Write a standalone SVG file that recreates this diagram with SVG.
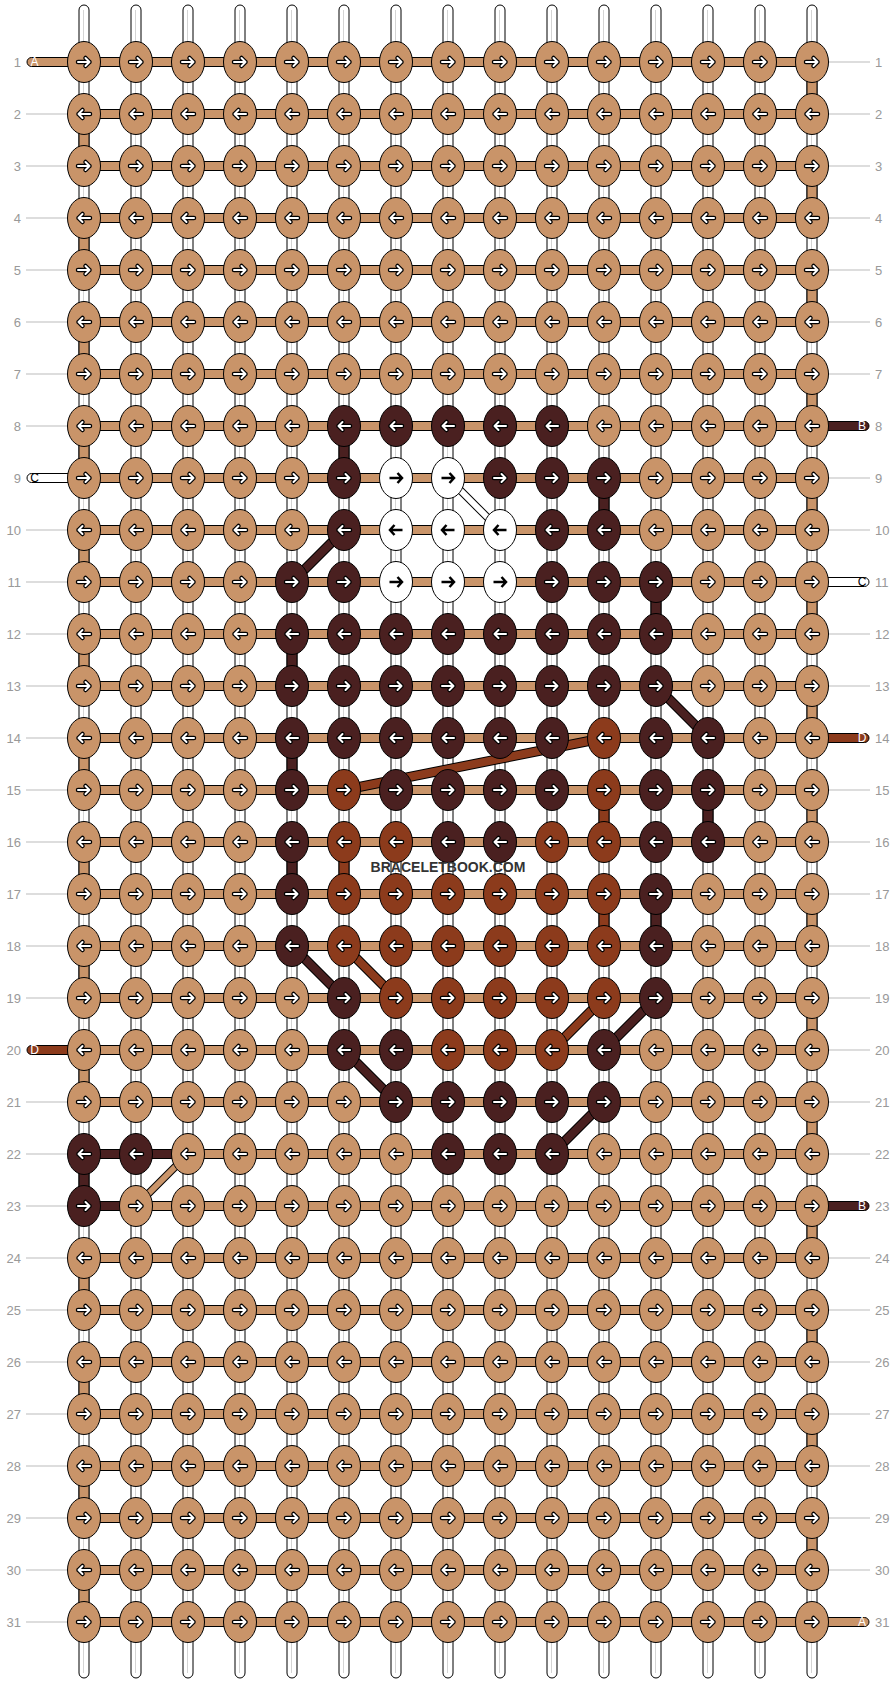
<svg xmlns="http://www.w3.org/2000/svg" xmlns:xlink="http://www.w3.org/1999/xlink" width="896" height="1684" viewBox="0 0 896 1684">
<style>
.s{fill:#fff;stroke:#000;stroke-width:1}
.g{stroke:#d4d4d4;stroke-width:1}
.b{stroke:#000;stroke-width:1}
.t{fill:#C99469}.d{fill:#4A2020}.r{fill:#8C3B1C}.w{fill:#fff}
.lbl{font-family:"Liberation Sans",Arial,sans-serif;font-size:13px;fill:#999}
.sl{font-family:"Liberation Sans",Arial,sans-serif;font-size:12px;text-anchor:middle}
.gl{stroke:#bbb;stroke-width:1}
.kb{stroke:#000;stroke-width:10;fill:none}
.kbw{stroke:#000;stroke-width:8;fill:none}
</style>
<defs>
<path id="ar" d="M-6,0H5.5M1.5,-4L5.5,0L1.5,4" fill="none" stroke-linecap="round" stroke-linejoin="round"/>
<g id="aR"><use href="#ar" stroke="#000" stroke-width="4.5"/><use href="#ar" stroke="#fff" stroke-width="2"/></g>
<g id="aL"><use href="#aR" transform="scale(-1,1)"/></g>
<g id="bR"><path d="M-6.5,0H6M1.5,-5L6,0L1.5,5" fill="none" stroke="#000" stroke-width="2.5"/></g>
<g id="bL"><use href="#bR" transform="scale(-1,1)"/></g>
<g id="tR"><ellipse rx="16.5" ry="20.5" class="t b"/><use href="#aR"/></g>
<g id="tL"><ellipse rx="16.5" ry="20.5" class="t b"/><use href="#aL"/></g>
<g id="dR"><ellipse rx="16.5" ry="20.5" class="d b"/><use href="#aR"/></g>
<g id="dL"><ellipse rx="16.5" ry="20.5" class="d b"/><use href="#aL"/></g>
<g id="rR"><ellipse rx="16.5" ry="20.5" class="r b"/><use href="#aR"/></g>
<g id="rL"><ellipse rx="16.5" ry="20.5" class="r b"/><use href="#aL"/></g>
<g id="wR"><ellipse rx="16.5" ry="20.5" class="w b"/><use href="#bR"/></g>
<g id="wL"><ellipse rx="16.5" ry="20.5" class="w b"/><use href="#bL"/></g>
</defs>
<rect width="896" height="1684" fill="#fff"/>
<g id="labels">
<g class="lbl" text-anchor="end">
<text x="21" y="66.5">1</text><text x="21" y="118.5">2</text><text x="21" y="170.5">3</text><text x="21" y="222.5">4</text><text x="21" y="274.5">5</text><text x="21" y="326.5">6</text><text x="21" y="378.5">7</text><text x="21" y="430.5">8</text><text x="21" y="482.5">9</text><text x="21" y="534.5">10</text><text x="21" y="586.5">11</text><text x="21" y="638.5">12</text><text x="21" y="690.5">13</text><text x="21" y="742.5">14</text><text x="21" y="794.5">15</text><text x="21" y="846.5">16</text><text x="21" y="898.5">17</text><text x="21" y="950.5">18</text><text x="21" y="1002.5">19</text><text x="21" y="1054.5">20</text><text x="21" y="1106.5">21</text><text x="21" y="1158.5">22</text><text x="21" y="1210.5">23</text><text x="21" y="1262.5">24</text><text x="21" y="1314.5">25</text><text x="21" y="1366.5">26</text><text x="21" y="1418.5">27</text><text x="21" y="1470.5">28</text><text x="21" y="1522.5">29</text><text x="21" y="1574.5">30</text><text x="21" y="1626.5">31</text>
</g>
<g class="lbl">
<text x="875" y="66.5">1</text><text x="875" y="118.5">2</text><text x="875" y="170.5">3</text><text x="875" y="222.5">4</text><text x="875" y="274.5">5</text><text x="875" y="326.5">6</text><text x="875" y="378.5">7</text><text x="875" y="430.5">8</text><text x="875" y="482.5">9</text><text x="875" y="534.5">10</text><text x="875" y="586.5">11</text><text x="875" y="638.5">12</text><text x="875" y="690.5">13</text><text x="875" y="742.5">14</text><text x="875" y="794.5">15</text><text x="875" y="846.5">16</text><text x="875" y="898.5">17</text><text x="875" y="950.5">18</text><text x="875" y="1002.5">19</text><text x="875" y="1054.5">20</text><text x="875" y="1106.5">21</text><text x="875" y="1158.5">22</text><text x="875" y="1210.5">23</text><text x="875" y="1262.5">24</text><text x="875" y="1314.5">25</text><text x="875" y="1366.5">26</text><text x="875" y="1418.5">27</text><text x="875" y="1470.5">28</text><text x="875" y="1522.5">29</text><text x="875" y="1574.5">30</text><text x="875" y="1626.5">31</text>
</g>
</g>
<g id="connectors">
<g id="guides" class="gl">
<path d="M26,114H67M26,166H67M26,218H67M26,270H67M26,322H67M26,374H67M26,426H67M26,530H67M26,582H67M26,634H67M26,686H67M26,738H67M26,790H67M26,842H67M26,894H67M26,946H67M26,998H67M26,1102H67M26,1154H67M26,1206H67M26,1258H67M26,1310H67M26,1362H67M26,1414H67M26,1466H67M26,1518H67M26,1570H67M26,1622H67"/>
<path d="M829,62H870M829,114H870M829,166H870M829,218H870M829,270H870M829,322H870M829,374H870M829,478H870M829,530H870M829,634H870M829,686H870M829,790H870M829,842H870M829,894H870M829,946H870M829,998H870M829,1050H870M829,1102H870M829,1154H870M829,1258H870M829,1310H870M829,1362H870M829,1414H870M829,1466H870M829,1518H870M829,1570H870"/>
</g>
<g id="strings">
<rect class="s" x="79" y="5" width="10" height="1673" rx="5"/><rect class="s" x="131" y="5" width="10" height="1673" rx="5"/><rect class="s" x="183" y="5" width="10" height="1673" rx="5"/><rect class="s" x="235" y="5" width="10" height="1673" rx="5"/><rect class="s" x="287" y="5" width="10" height="1673" rx="5"/><rect class="s" x="339" y="5" width="10" height="1673" rx="5"/><rect class="s" x="391" y="5" width="10" height="1673" rx="5"/><rect class="s" x="443" y="5" width="10" height="1673" rx="5"/><rect class="s" x="495" y="5" width="10" height="1673" rx="5"/><rect class="s" x="547" y="5" width="10" height="1673" rx="5"/><rect class="s" x="599" y="5" width="10" height="1673" rx="5"/><rect class="s" x="651" y="5" width="10" height="1673" rx="5"/><rect class="s" x="703" y="5" width="10" height="1673" rx="5"/><rect class="s" x="755" y="5" width="10" height="1673" rx="5"/><rect class="s" x="807" y="5" width="10" height="1673" rx="5"/>
<path class="g" d="M83.5,10V1673M135.5,10V1673M187.5,10V1673M239.5,10V1673M291.5,10V1673M343.5,10V1673M395.5,10V1673M447.5,10V1673M499.5,10V1673M551.5,10V1673M603.5,10V1673M655.5,10V1673M707.5,10V1673M759.5,10V1673M811.5,10V1673"/>
</g>
<g id="rows" class="b">
<rect class="t" x="84" y="57.5" width="728" height="9"/><rect class="t" x="84" y="109.5" width="728" height="9"/><rect class="t" x="84" y="161.5" width="728" height="9"/><rect class="t" x="84" y="213.5" width="728" height="9"/><rect class="t" x="84" y="265.5" width="728" height="9"/><rect class="t" x="84" y="317.5" width="728" height="9"/><rect class="t" x="84" y="369.5" width="728" height="9"/><rect class="t" x="84" y="421.5" width="728" height="9"/><rect class="t" x="84" y="473.5" width="728" height="9"/><rect class="t" x="84" y="525.5" width="728" height="9"/><rect class="t" x="84" y="577.5" width="728" height="9"/><rect class="t" x="84" y="629.5" width="728" height="9"/><rect class="t" x="84" y="681.5" width="728" height="9"/><rect class="t" x="84" y="733.5" width="728" height="9"/><rect class="t" x="84" y="785.5" width="728" height="9"/><rect class="t" x="84" y="837.5" width="728" height="9"/><rect class="t" x="84" y="889.5" width="728" height="9"/><rect class="t" x="84" y="941.5" width="728" height="9"/><rect class="t" x="84" y="993.5" width="728" height="9"/><rect class="t" x="84" y="1045.5" width="728" height="9"/><rect class="t" x="84" y="1097.5" width="728" height="9"/>
<rect class="t" x="188" y="1149.5" width="624" height="9"/><rect class="d" x="84" y="1149.5" width="104" height="9"/>
<rect class="t" x="136" y="1201.5" width="676" height="9"/><rect class="d" x="84" y="1201.5" width="52" height="9"/>
<rect class="t" x="84" y="1253.5" width="728" height="9"/><rect class="t" x="84" y="1305.5" width="728" height="9"/><rect class="t" x="84" y="1357.5" width="728" height="9"/><rect class="t" x="84" y="1409.5" width="728" height="9"/><rect class="t" x="84" y="1461.5" width="728" height="9"/><rect class="t" x="84" y="1513.5" width="728" height="9"/><rect class="t" x="84" y="1565.5" width="728" height="9"/><rect class="t" x="84" y="1617.5" width="728" height="9"/>
</g>
<g id="stubs" class="b">
<rect class="t" x="27" y="57.5" width="62" height="9" rx="4.5"/>
<rect class="w" x="27" y="473.5" width="62" height="9" rx="4.5"/>
<rect class="r" x="27" y="1045.5" width="62" height="9" rx="4.5"/>
<rect class="d" x="807" y="421.5" width="62" height="9" rx="4.5"/>
<rect class="w" x="807" y="577.5" width="62" height="9" rx="4.5"/>
<rect class="r" x="807" y="733.5" width="62" height="9" rx="4.5"/>
<rect class="d" x="807" y="1201.5" width="62" height="9" rx="4.5"/>
<rect class="t" x="807" y="1617.5" width="62" height="9" rx="4.5"/>
</g>
<g id="stub-letters" class="sl">
<text x="34.5" y="66.3" fill="#fff">A</text>
<text x="34.5" y="482.3" fill="#000">C</text>
<text x="34.5" y="1054.3" fill="#fff">D</text>
<text x="862" y="430.3" fill="#fff">B</text>
<text x="862" y="586.3" fill="#000">C</text>
<text x="862" y="742.3" fill="#fff">D</text>
<text x="862" y="1210.3" fill="#fff">B</text>
<text x="862" y="1626.3" fill="#fff">A</text>
</g>
<g id="turns" class="b">
<rect class="t" x="79" y="114" width="10" height="52"/><rect class="t" x="79" y="218" width="10" height="52"/><rect class="t" x="79" y="322" width="10" height="52"/><rect class="t" x="79" y="426" width="10" height="52"/><rect class="t" x="79" y="530" width="10" height="52"/><rect class="t" x="79" y="634" width="10" height="52"/><rect class="t" x="79" y="738" width="10" height="52"/><rect class="t" x="79" y="842" width="10" height="52"/><rect class="t" x="79" y="946" width="10" height="52"/><rect class="t" x="79" y="1050" width="10" height="52"/><rect class="d" x="79" y="1154" width="10" height="52"/><rect class="t" x="79" y="1258" width="10" height="52"/><rect class="t" x="79" y="1362" width="10" height="52"/><rect class="t" x="79" y="1466" width="10" height="52"/><rect class="t" x="79" y="1570" width="10" height="52"/>
<rect class="t" x="807" y="62" width="10" height="52"/><rect class="t" x="807" y="166" width="10" height="52"/><rect class="t" x="807" y="270" width="10" height="52"/><rect class="t" x="807" y="374" width="10" height="52"/><rect class="t" x="807" y="478" width="10" height="52"/><rect class="t" x="807" y="582" width="10" height="52"/><rect class="t" x="807" y="686" width="10" height="52"/><rect class="t" x="807" y="790" width="10" height="52"/><rect class="t" x="807" y="894" width="10" height="52"/><rect class="t" x="807" y="998" width="10" height="52"/><rect class="t" x="807" y="1102" width="10" height="52"/><rect class="t" x="807" y="1206" width="10" height="52"/><rect class="t" x="807" y="1310" width="10" height="52"/><rect class="t" x="807" y="1414" width="10" height="52"/><rect class="t" x="807" y="1518" width="10" height="52"/>
</g>
<g id="color-verticals" class="b">
<rect class="d" x="339" y="426" width="10" height="52"/>
<rect class="d" x="599" y="478" width="10" height="52"/>
<rect class="d" x="651" y="582" width="10" height="52"/>
<rect class="d" x="287" y="634" width="10" height="52"/>
<rect class="d" x="287" y="738" width="10" height="52"/>
<rect class="d" x="703" y="790" width="10" height="52"/>
<rect class="r" x="599" y="790" width="10" height="52"/>
<rect class="d" x="287" y="842" width="10" height="52"/>
<rect class="r" x="339" y="842" width="10" height="52"/>
<rect class="r" x="599" y="894" width="10" height="52"/>
<rect class="d" x="651" y="894" width="10" height="52"/>
</g>
<g id="diagonals">
<path class="kbw" d="M448,478L500,530"/><path d="M448,478L500,530" stroke="#fff" stroke-width="6" fill="none"/>
<path class="kb" d="M344,530L292,582M656,686L708,738M292,946L344,998M656,998L604,1050M344,1050L396,1102M604,1102L552,1154"/>
<path d="M344,530L292,582M656,686L708,738M292,946L344,998M656,998L604,1050M344,1050L396,1102M604,1102L552,1154" stroke="#4A2020" stroke-width="8" fill="none"/>
<path class="kb" d="M604,738L344,790M344,946L396,998M604,998L552,1050"/>
<path d="M604,738L344,790M344,946L396,998M604,998L552,1050" stroke="#8C3B1C" stroke-width="8" fill="none"/>
<path class="kbw" d="M188,1154L136,1206"/><path d="M188,1154L136,1206" stroke="#C99469" stroke-width="6" fill="none"/>
</g>
</g>
<g id="knots">
<g id="k1_0"><use href="#tR" x="84" y="62"/></g><g id="k1_1"><use href="#tR" x="136" y="62"/></g><g id="k1_2"><use href="#tR" x="188" y="62"/></g><g id="k1_3"><use href="#tR" x="240" y="62"/></g><g id="k1_4"><use href="#tR" x="292" y="62"/></g><g id="k1_5"><use href="#tR" x="344" y="62"/></g><g id="k1_6"><use href="#tR" x="396" y="62"/></g><g id="k1_7"><use href="#tR" x="448" y="62"/></g><g id="k1_8"><use href="#tR" x="500" y="62"/></g><g id="k1_9"><use href="#tR" x="552" y="62"/></g><g id="k1_10"><use href="#tR" x="604" y="62"/></g><g id="k1_11"><use href="#tR" x="656" y="62"/></g><g id="k1_12"><use href="#tR" x="708" y="62"/></g><g id="k1_13"><use href="#tR" x="760" y="62"/></g><g id="k1_14"><use href="#tR" x="812" y="62"/></g>
<g id="k2_0"><use href="#tL" x="84" y="114"/></g><g id="k2_1"><use href="#tL" x="136" y="114"/></g><g id="k2_2"><use href="#tL" x="188" y="114"/></g><g id="k2_3"><use href="#tL" x="240" y="114"/></g><g id="k2_4"><use href="#tL" x="292" y="114"/></g><g id="k2_5"><use href="#tL" x="344" y="114"/></g><g id="k2_6"><use href="#tL" x="396" y="114"/></g><g id="k2_7"><use href="#tL" x="448" y="114"/></g><g id="k2_8"><use href="#tL" x="500" y="114"/></g><g id="k2_9"><use href="#tL" x="552" y="114"/></g><g id="k2_10"><use href="#tL" x="604" y="114"/></g><g id="k2_11"><use href="#tL" x="656" y="114"/></g><g id="k2_12"><use href="#tL" x="708" y="114"/></g><g id="k2_13"><use href="#tL" x="760" y="114"/></g><g id="k2_14"><use href="#tL" x="812" y="114"/></g>
<g id="k3_0"><use href="#tR" x="84" y="166"/></g><g id="k3_1"><use href="#tR" x="136" y="166"/></g><g id="k3_2"><use href="#tR" x="188" y="166"/></g><g id="k3_3"><use href="#tR" x="240" y="166"/></g><g id="k3_4"><use href="#tR" x="292" y="166"/></g><g id="k3_5"><use href="#tR" x="344" y="166"/></g><g id="k3_6"><use href="#tR" x="396" y="166"/></g><g id="k3_7"><use href="#tR" x="448" y="166"/></g><g id="k3_8"><use href="#tR" x="500" y="166"/></g><g id="k3_9"><use href="#tR" x="552" y="166"/></g><g id="k3_10"><use href="#tR" x="604" y="166"/></g><g id="k3_11"><use href="#tR" x="656" y="166"/></g><g id="k3_12"><use href="#tR" x="708" y="166"/></g><g id="k3_13"><use href="#tR" x="760" y="166"/></g><g id="k3_14"><use href="#tR" x="812" y="166"/></g>
<g id="k4_0"><use href="#tL" x="84" y="218"/></g><g id="k4_1"><use href="#tL" x="136" y="218"/></g><g id="k4_2"><use href="#tL" x="188" y="218"/></g><g id="k4_3"><use href="#tL" x="240" y="218"/></g><g id="k4_4"><use href="#tL" x="292" y="218"/></g><g id="k4_5"><use href="#tL" x="344" y="218"/></g><g id="k4_6"><use href="#tL" x="396" y="218"/></g><g id="k4_7"><use href="#tL" x="448" y="218"/></g><g id="k4_8"><use href="#tL" x="500" y="218"/></g><g id="k4_9"><use href="#tL" x="552" y="218"/></g><g id="k4_10"><use href="#tL" x="604" y="218"/></g><g id="k4_11"><use href="#tL" x="656" y="218"/></g><g id="k4_12"><use href="#tL" x="708" y="218"/></g><g id="k4_13"><use href="#tL" x="760" y="218"/></g><g id="k4_14"><use href="#tL" x="812" y="218"/></g>
<g id="k5_0"><use href="#tR" x="84" y="270"/></g><g id="k5_1"><use href="#tR" x="136" y="270"/></g><g id="k5_2"><use href="#tR" x="188" y="270"/></g><g id="k5_3"><use href="#tR" x="240" y="270"/></g><g id="k5_4"><use href="#tR" x="292" y="270"/></g><g id="k5_5"><use href="#tR" x="344" y="270"/></g><g id="k5_6"><use href="#tR" x="396" y="270"/></g><g id="k5_7"><use href="#tR" x="448" y="270"/></g><g id="k5_8"><use href="#tR" x="500" y="270"/></g><g id="k5_9"><use href="#tR" x="552" y="270"/></g><g id="k5_10"><use href="#tR" x="604" y="270"/></g><g id="k5_11"><use href="#tR" x="656" y="270"/></g><g id="k5_12"><use href="#tR" x="708" y="270"/></g><g id="k5_13"><use href="#tR" x="760" y="270"/></g><g id="k5_14"><use href="#tR" x="812" y="270"/></g>
<g id="k6_0"><use href="#tL" x="84" y="322"/></g><g id="k6_1"><use href="#tL" x="136" y="322"/></g><g id="k6_2"><use href="#tL" x="188" y="322"/></g><g id="k6_3"><use href="#tL" x="240" y="322"/></g><g id="k6_4"><use href="#tL" x="292" y="322"/></g><g id="k6_5"><use href="#tL" x="344" y="322"/></g><g id="k6_6"><use href="#tL" x="396" y="322"/></g><g id="k6_7"><use href="#tL" x="448" y="322"/></g><g id="k6_8"><use href="#tL" x="500" y="322"/></g><g id="k6_9"><use href="#tL" x="552" y="322"/></g><g id="k6_10"><use href="#tL" x="604" y="322"/></g><g id="k6_11"><use href="#tL" x="656" y="322"/></g><g id="k6_12"><use href="#tL" x="708" y="322"/></g><g id="k6_13"><use href="#tL" x="760" y="322"/></g><g id="k6_14"><use href="#tL" x="812" y="322"/></g>
<g id="k7_0"><use href="#tR" x="84" y="374"/></g><g id="k7_1"><use href="#tR" x="136" y="374"/></g><g id="k7_2"><use href="#tR" x="188" y="374"/></g><g id="k7_3"><use href="#tR" x="240" y="374"/></g><g id="k7_4"><use href="#tR" x="292" y="374"/></g><g id="k7_5"><use href="#tR" x="344" y="374"/></g><g id="k7_6"><use href="#tR" x="396" y="374"/></g><g id="k7_7"><use href="#tR" x="448" y="374"/></g><g id="k7_8"><use href="#tR" x="500" y="374"/></g><g id="k7_9"><use href="#tR" x="552" y="374"/></g><g id="k7_10"><use href="#tR" x="604" y="374"/></g><g id="k7_11"><use href="#tR" x="656" y="374"/></g><g id="k7_12"><use href="#tR" x="708" y="374"/></g><g id="k7_13"><use href="#tR" x="760" y="374"/></g><g id="k7_14"><use href="#tR" x="812" y="374"/></g>
<g id="k8_0"><use href="#tL" x="84" y="426"/></g><g id="k8_1"><use href="#tL" x="136" y="426"/></g><g id="k8_2"><use href="#tL" x="188" y="426"/></g><g id="k8_3"><use href="#tL" x="240" y="426"/></g><g id="k8_4"><use href="#tL" x="292" y="426"/></g><g id="k8_5"><use href="#dL" x="344" y="426"/></g><g id="k8_6"><use href="#dL" x="396" y="426"/></g><g id="k8_7"><use href="#dL" x="448" y="426"/></g><g id="k8_8"><use href="#dL" x="500" y="426"/></g><g id="k8_9"><use href="#dL" x="552" y="426"/></g><g id="k8_10"><use href="#tL" x="604" y="426"/></g><g id="k8_11"><use href="#tL" x="656" y="426"/></g><g id="k8_12"><use href="#tL" x="708" y="426"/></g><g id="k8_13"><use href="#tL" x="760" y="426"/></g><g id="k8_14"><use href="#tL" x="812" y="426"/></g>
<g id="k9_0"><use href="#tR" x="84" y="478"/></g><g id="k9_1"><use href="#tR" x="136" y="478"/></g><g id="k9_2"><use href="#tR" x="188" y="478"/></g><g id="k9_3"><use href="#tR" x="240" y="478"/></g><g id="k9_4"><use href="#tR" x="292" y="478"/></g><g id="k9_5"><use href="#dR" x="344" y="478"/></g><g id="k9_6"><use href="#wR" x="396" y="478"/></g><g id="k9_7"><use href="#wR" x="448" y="478"/></g><g id="k9_8"><use href="#dR" x="500" y="478"/></g><g id="k9_9"><use href="#dR" x="552" y="478"/></g><g id="k9_10"><use href="#dR" x="604" y="478"/></g><g id="k9_11"><use href="#tR" x="656" y="478"/></g><g id="k9_12"><use href="#tR" x="708" y="478"/></g><g id="k9_13"><use href="#tR" x="760" y="478"/></g><g id="k9_14"><use href="#tR" x="812" y="478"/></g>
<g id="k10_0"><use href="#tL" x="84" y="530"/></g><g id="k10_1"><use href="#tL" x="136" y="530"/></g><g id="k10_2"><use href="#tL" x="188" y="530"/></g><g id="k10_3"><use href="#tL" x="240" y="530"/></g><g id="k10_4"><use href="#tL" x="292" y="530"/></g><g id="k10_5"><use href="#dL" x="344" y="530"/></g><g id="k10_6"><use href="#wL" x="396" y="530"/></g><g id="k10_7"><use href="#wL" x="448" y="530"/></g><g id="k10_8"><use href="#wL" x="500" y="530"/></g><g id="k10_9"><use href="#dL" x="552" y="530"/></g><g id="k10_10"><use href="#dL" x="604" y="530"/></g><g id="k10_11"><use href="#tL" x="656" y="530"/></g><g id="k10_12"><use href="#tL" x="708" y="530"/></g><g id="k10_13"><use href="#tL" x="760" y="530"/></g><g id="k10_14"><use href="#tL" x="812" y="530"/></g>
<g id="k11_0"><use href="#tR" x="84" y="582"/></g><g id="k11_1"><use href="#tR" x="136" y="582"/></g><g id="k11_2"><use href="#tR" x="188" y="582"/></g><g id="k11_3"><use href="#tR" x="240" y="582"/></g><g id="k11_4"><use href="#dR" x="292" y="582"/></g><g id="k11_5"><use href="#dR" x="344" y="582"/></g><g id="k11_6"><use href="#wR" x="396" y="582"/></g><g id="k11_7"><use href="#wR" x="448" y="582"/></g><g id="k11_8"><use href="#wR" x="500" y="582"/></g><g id="k11_9"><use href="#dR" x="552" y="582"/></g><g id="k11_10"><use href="#dR" x="604" y="582"/></g><g id="k11_11"><use href="#dR" x="656" y="582"/></g><g id="k11_12"><use href="#tR" x="708" y="582"/></g><g id="k11_13"><use href="#tR" x="760" y="582"/></g><g id="k11_14"><use href="#tR" x="812" y="582"/></g>
<g id="k12_0"><use href="#tL" x="84" y="634"/></g><g id="k12_1"><use href="#tL" x="136" y="634"/></g><g id="k12_2"><use href="#tL" x="188" y="634"/></g><g id="k12_3"><use href="#tL" x="240" y="634"/></g><g id="k12_4"><use href="#dL" x="292" y="634"/></g><g id="k12_5"><use href="#dL" x="344" y="634"/></g><g id="k12_6"><use href="#dL" x="396" y="634"/></g><g id="k12_7"><use href="#dL" x="448" y="634"/></g><g id="k12_8"><use href="#dL" x="500" y="634"/></g><g id="k12_9"><use href="#dL" x="552" y="634"/></g><g id="k12_10"><use href="#dL" x="604" y="634"/></g><g id="k12_11"><use href="#dL" x="656" y="634"/></g><g id="k12_12"><use href="#tL" x="708" y="634"/></g><g id="k12_13"><use href="#tL" x="760" y="634"/></g><g id="k12_14"><use href="#tL" x="812" y="634"/></g>
<g id="k13_0"><use href="#tR" x="84" y="686"/></g><g id="k13_1"><use href="#tR" x="136" y="686"/></g><g id="k13_2"><use href="#tR" x="188" y="686"/></g><g id="k13_3"><use href="#tR" x="240" y="686"/></g><g id="k13_4"><use href="#dR" x="292" y="686"/></g><g id="k13_5"><use href="#dR" x="344" y="686"/></g><g id="k13_6"><use href="#dR" x="396" y="686"/></g><g id="k13_7"><use href="#dR" x="448" y="686"/></g><g id="k13_8"><use href="#dR" x="500" y="686"/></g><g id="k13_9"><use href="#dR" x="552" y="686"/></g><g id="k13_10"><use href="#dR" x="604" y="686"/></g><g id="k13_11"><use href="#dR" x="656" y="686"/></g><g id="k13_12"><use href="#tR" x="708" y="686"/></g><g id="k13_13"><use href="#tR" x="760" y="686"/></g><g id="k13_14"><use href="#tR" x="812" y="686"/></g>
<g id="k14_0"><use href="#tL" x="84" y="738"/></g><g id="k14_1"><use href="#tL" x="136" y="738"/></g><g id="k14_2"><use href="#tL" x="188" y="738"/></g><g id="k14_3"><use href="#tL" x="240" y="738"/></g><g id="k14_4"><use href="#dL" x="292" y="738"/></g><g id="k14_5"><use href="#dL" x="344" y="738"/></g><g id="k14_6"><use href="#dL" x="396" y="738"/></g><g id="k14_7"><use href="#dL" x="448" y="738"/></g><g id="k14_8"><use href="#dL" x="500" y="738"/></g><g id="k14_9"><use href="#dL" x="552" y="738"/></g><g id="k14_10"><use href="#rL" x="604" y="738"/></g><g id="k14_11"><use href="#dL" x="656" y="738"/></g><g id="k14_12"><use href="#dL" x="708" y="738"/></g><g id="k14_13"><use href="#tL" x="760" y="738"/></g><g id="k14_14"><use href="#tL" x="812" y="738"/></g>
<g id="k15_0"><use href="#tR" x="84" y="790"/></g><g id="k15_1"><use href="#tR" x="136" y="790"/></g><g id="k15_2"><use href="#tR" x="188" y="790"/></g><g id="k15_3"><use href="#tR" x="240" y="790"/></g><g id="k15_4"><use href="#dR" x="292" y="790"/></g><g id="k15_5"><use href="#rR" x="344" y="790"/></g><g id="k15_6"><use href="#dR" x="396" y="790"/></g><g id="k15_7"><use href="#dR" x="448" y="790"/></g><g id="k15_8"><use href="#dR" x="500" y="790"/></g><g id="k15_9"><use href="#dR" x="552" y="790"/></g><g id="k15_10"><use href="#rR" x="604" y="790"/></g><g id="k15_11"><use href="#dR" x="656" y="790"/></g><g id="k15_12"><use href="#dR" x="708" y="790"/></g><g id="k15_13"><use href="#tR" x="760" y="790"/></g><g id="k15_14"><use href="#tR" x="812" y="790"/></g>
<g id="k16_0"><use href="#tL" x="84" y="842"/></g><g id="k16_1"><use href="#tL" x="136" y="842"/></g><g id="k16_2"><use href="#tL" x="188" y="842"/></g><g id="k16_3"><use href="#tL" x="240" y="842"/></g><g id="k16_4"><use href="#dL" x="292" y="842"/></g><g id="k16_5"><use href="#rL" x="344" y="842"/></g><g id="k16_6"><use href="#rL" x="396" y="842"/></g><g id="k16_7"><use href="#dL" x="448" y="842"/></g><g id="k16_8"><use href="#dL" x="500" y="842"/></g><g id="k16_9"><use href="#rL" x="552" y="842"/></g><g id="k16_10"><use href="#rL" x="604" y="842"/></g><g id="k16_11"><use href="#dL" x="656" y="842"/></g><g id="k16_12"><use href="#dL" x="708" y="842"/></g><g id="k16_13"><use href="#tL" x="760" y="842"/></g><g id="k16_14"><use href="#tL" x="812" y="842"/></g>
<g id="k17_0"><use href="#tR" x="84" y="894"/></g><g id="k17_1"><use href="#tR" x="136" y="894"/></g><g id="k17_2"><use href="#tR" x="188" y="894"/></g><g id="k17_3"><use href="#tR" x="240" y="894"/></g><g id="k17_4"><use href="#dR" x="292" y="894"/></g><g id="k17_5"><use href="#rR" x="344" y="894"/></g><g id="k17_6"><use href="#rR" x="396" y="894"/></g><g id="k17_7"><use href="#rR" x="448" y="894"/></g><g id="k17_8"><use href="#rR" x="500" y="894"/></g><g id="k17_9"><use href="#rR" x="552" y="894"/></g><g id="k17_10"><use href="#rR" x="604" y="894"/></g><g id="k17_11"><use href="#dR" x="656" y="894"/></g><g id="k17_12"><use href="#tR" x="708" y="894"/></g><g id="k17_13"><use href="#tR" x="760" y="894"/></g><g id="k17_14"><use href="#tR" x="812" y="894"/></g>
<g id="k18_0"><use href="#tL" x="84" y="946"/></g><g id="k18_1"><use href="#tL" x="136" y="946"/></g><g id="k18_2"><use href="#tL" x="188" y="946"/></g><g id="k18_3"><use href="#tL" x="240" y="946"/></g><g id="k18_4"><use href="#dL" x="292" y="946"/></g><g id="k18_5"><use href="#rL" x="344" y="946"/></g><g id="k18_6"><use href="#rL" x="396" y="946"/></g><g id="k18_7"><use href="#rL" x="448" y="946"/></g><g id="k18_8"><use href="#rL" x="500" y="946"/></g><g id="k18_9"><use href="#rL" x="552" y="946"/></g><g id="k18_10"><use href="#rL" x="604" y="946"/></g><g id="k18_11"><use href="#dL" x="656" y="946"/></g><g id="k18_12"><use href="#tL" x="708" y="946"/></g><g id="k18_13"><use href="#tL" x="760" y="946"/></g><g id="k18_14"><use href="#tL" x="812" y="946"/></g>
<g id="k19_0"><use href="#tR" x="84" y="998"/></g><g id="k19_1"><use href="#tR" x="136" y="998"/></g><g id="k19_2"><use href="#tR" x="188" y="998"/></g><g id="k19_3"><use href="#tR" x="240" y="998"/></g><g id="k19_4"><use href="#tR" x="292" y="998"/></g><g id="k19_5"><use href="#dR" x="344" y="998"/></g><g id="k19_6"><use href="#rR" x="396" y="998"/></g><g id="k19_7"><use href="#rR" x="448" y="998"/></g><g id="k19_8"><use href="#rR" x="500" y="998"/></g><g id="k19_9"><use href="#rR" x="552" y="998"/></g><g id="k19_10"><use href="#rR" x="604" y="998"/></g><g id="k19_11"><use href="#dR" x="656" y="998"/></g><g id="k19_12"><use href="#tR" x="708" y="998"/></g><g id="k19_13"><use href="#tR" x="760" y="998"/></g><g id="k19_14"><use href="#tR" x="812" y="998"/></g>
<g id="k20_0"><use href="#tL" x="84" y="1050"/></g><g id="k20_1"><use href="#tL" x="136" y="1050"/></g><g id="k20_2"><use href="#tL" x="188" y="1050"/></g><g id="k20_3"><use href="#tL" x="240" y="1050"/></g><g id="k20_4"><use href="#tL" x="292" y="1050"/></g><g id="k20_5"><use href="#dL" x="344" y="1050"/></g><g id="k20_6"><use href="#dL" x="396" y="1050"/></g><g id="k20_7"><use href="#rL" x="448" y="1050"/></g><g id="k20_8"><use href="#rL" x="500" y="1050"/></g><g id="k20_9"><use href="#rL" x="552" y="1050"/></g><g id="k20_10"><use href="#dL" x="604" y="1050"/></g><g id="k20_11"><use href="#tL" x="656" y="1050"/></g><g id="k20_12"><use href="#tL" x="708" y="1050"/></g><g id="k20_13"><use href="#tL" x="760" y="1050"/></g><g id="k20_14"><use href="#tL" x="812" y="1050"/></g>
<g id="k21_0"><use href="#tR" x="84" y="1102"/></g><g id="k21_1"><use href="#tR" x="136" y="1102"/></g><g id="k21_2"><use href="#tR" x="188" y="1102"/></g><g id="k21_3"><use href="#tR" x="240" y="1102"/></g><g id="k21_4"><use href="#tR" x="292" y="1102"/></g><g id="k21_5"><use href="#tR" x="344" y="1102"/></g><g id="k21_6"><use href="#dR" x="396" y="1102"/></g><g id="k21_7"><use href="#dR" x="448" y="1102"/></g><g id="k21_8"><use href="#dR" x="500" y="1102"/></g><g id="k21_9"><use href="#dR" x="552" y="1102"/></g><g id="k21_10"><use href="#dR" x="604" y="1102"/></g><g id="k21_11"><use href="#tR" x="656" y="1102"/></g><g id="k21_12"><use href="#tR" x="708" y="1102"/></g><g id="k21_13"><use href="#tR" x="760" y="1102"/></g><g id="k21_14"><use href="#tR" x="812" y="1102"/></g>
<g id="k22_0"><use href="#dL" x="84" y="1154"/></g><g id="k22_1"><use href="#dL" x="136" y="1154"/></g><g id="k22_2"><use href="#tL" x="188" y="1154"/></g><g id="k22_3"><use href="#tL" x="240" y="1154"/></g><g id="k22_4"><use href="#tL" x="292" y="1154"/></g><g id="k22_5"><use href="#tL" x="344" y="1154"/></g><g id="k22_6"><use href="#tL" x="396" y="1154"/></g><g id="k22_7"><use href="#dL" x="448" y="1154"/></g><g id="k22_8"><use href="#dL" x="500" y="1154"/></g><g id="k22_9"><use href="#dL" x="552" y="1154"/></g><g id="k22_10"><use href="#tL" x="604" y="1154"/></g><g id="k22_11"><use href="#tL" x="656" y="1154"/></g><g id="k22_12"><use href="#tL" x="708" y="1154"/></g><g id="k22_13"><use href="#tL" x="760" y="1154"/></g><g id="k22_14"><use href="#tL" x="812" y="1154"/></g>
<g id="k23_0"><use href="#dR" x="84" y="1206"/></g><g id="k23_1"><use href="#tR" x="136" y="1206"/></g><g id="k23_2"><use href="#tR" x="188" y="1206"/></g><g id="k23_3"><use href="#tR" x="240" y="1206"/></g><g id="k23_4"><use href="#tR" x="292" y="1206"/></g><g id="k23_5"><use href="#tR" x="344" y="1206"/></g><g id="k23_6"><use href="#tR" x="396" y="1206"/></g><g id="k23_7"><use href="#tR" x="448" y="1206"/></g><g id="k23_8"><use href="#tR" x="500" y="1206"/></g><g id="k23_9"><use href="#tR" x="552" y="1206"/></g><g id="k23_10"><use href="#tR" x="604" y="1206"/></g><g id="k23_11"><use href="#tR" x="656" y="1206"/></g><g id="k23_12"><use href="#tR" x="708" y="1206"/></g><g id="k23_13"><use href="#tR" x="760" y="1206"/></g><g id="k23_14"><use href="#tR" x="812" y="1206"/></g>
<g id="k24_0"><use href="#tL" x="84" y="1258"/></g><g id="k24_1"><use href="#tL" x="136" y="1258"/></g><g id="k24_2"><use href="#tL" x="188" y="1258"/></g><g id="k24_3"><use href="#tL" x="240" y="1258"/></g><g id="k24_4"><use href="#tL" x="292" y="1258"/></g><g id="k24_5"><use href="#tL" x="344" y="1258"/></g><g id="k24_6"><use href="#tL" x="396" y="1258"/></g><g id="k24_7"><use href="#tL" x="448" y="1258"/></g><g id="k24_8"><use href="#tL" x="500" y="1258"/></g><g id="k24_9"><use href="#tL" x="552" y="1258"/></g><g id="k24_10"><use href="#tL" x="604" y="1258"/></g><g id="k24_11"><use href="#tL" x="656" y="1258"/></g><g id="k24_12"><use href="#tL" x="708" y="1258"/></g><g id="k24_13"><use href="#tL" x="760" y="1258"/></g><g id="k24_14"><use href="#tL" x="812" y="1258"/></g>
<g id="k25_0"><use href="#tR" x="84" y="1310"/></g><g id="k25_1"><use href="#tR" x="136" y="1310"/></g><g id="k25_2"><use href="#tR" x="188" y="1310"/></g><g id="k25_3"><use href="#tR" x="240" y="1310"/></g><g id="k25_4"><use href="#tR" x="292" y="1310"/></g><g id="k25_5"><use href="#tR" x="344" y="1310"/></g><g id="k25_6"><use href="#tR" x="396" y="1310"/></g><g id="k25_7"><use href="#tR" x="448" y="1310"/></g><g id="k25_8"><use href="#tR" x="500" y="1310"/></g><g id="k25_9"><use href="#tR" x="552" y="1310"/></g><g id="k25_10"><use href="#tR" x="604" y="1310"/></g><g id="k25_11"><use href="#tR" x="656" y="1310"/></g><g id="k25_12"><use href="#tR" x="708" y="1310"/></g><g id="k25_13"><use href="#tR" x="760" y="1310"/></g><g id="k25_14"><use href="#tR" x="812" y="1310"/></g>
<g id="k26_0"><use href="#tL" x="84" y="1362"/></g><g id="k26_1"><use href="#tL" x="136" y="1362"/></g><g id="k26_2"><use href="#tL" x="188" y="1362"/></g><g id="k26_3"><use href="#tL" x="240" y="1362"/></g><g id="k26_4"><use href="#tL" x="292" y="1362"/></g><g id="k26_5"><use href="#tL" x="344" y="1362"/></g><g id="k26_6"><use href="#tL" x="396" y="1362"/></g><g id="k26_7"><use href="#tL" x="448" y="1362"/></g><g id="k26_8"><use href="#tL" x="500" y="1362"/></g><g id="k26_9"><use href="#tL" x="552" y="1362"/></g><g id="k26_10"><use href="#tL" x="604" y="1362"/></g><g id="k26_11"><use href="#tL" x="656" y="1362"/></g><g id="k26_12"><use href="#tL" x="708" y="1362"/></g><g id="k26_13"><use href="#tL" x="760" y="1362"/></g><g id="k26_14"><use href="#tL" x="812" y="1362"/></g>
<g id="k27_0"><use href="#tR" x="84" y="1414"/></g><g id="k27_1"><use href="#tR" x="136" y="1414"/></g><g id="k27_2"><use href="#tR" x="188" y="1414"/></g><g id="k27_3"><use href="#tR" x="240" y="1414"/></g><g id="k27_4"><use href="#tR" x="292" y="1414"/></g><g id="k27_5"><use href="#tR" x="344" y="1414"/></g><g id="k27_6"><use href="#tR" x="396" y="1414"/></g><g id="k27_7"><use href="#tR" x="448" y="1414"/></g><g id="k27_8"><use href="#tR" x="500" y="1414"/></g><g id="k27_9"><use href="#tR" x="552" y="1414"/></g><g id="k27_10"><use href="#tR" x="604" y="1414"/></g><g id="k27_11"><use href="#tR" x="656" y="1414"/></g><g id="k27_12"><use href="#tR" x="708" y="1414"/></g><g id="k27_13"><use href="#tR" x="760" y="1414"/></g><g id="k27_14"><use href="#tR" x="812" y="1414"/></g>
<g id="k28_0"><use href="#tL" x="84" y="1466"/></g><g id="k28_1"><use href="#tL" x="136" y="1466"/></g><g id="k28_2"><use href="#tL" x="188" y="1466"/></g><g id="k28_3"><use href="#tL" x="240" y="1466"/></g><g id="k28_4"><use href="#tL" x="292" y="1466"/></g><g id="k28_5"><use href="#tL" x="344" y="1466"/></g><g id="k28_6"><use href="#tL" x="396" y="1466"/></g><g id="k28_7"><use href="#tL" x="448" y="1466"/></g><g id="k28_8"><use href="#tL" x="500" y="1466"/></g><g id="k28_9"><use href="#tL" x="552" y="1466"/></g><g id="k28_10"><use href="#tL" x="604" y="1466"/></g><g id="k28_11"><use href="#tL" x="656" y="1466"/></g><g id="k28_12"><use href="#tL" x="708" y="1466"/></g><g id="k28_13"><use href="#tL" x="760" y="1466"/></g><g id="k28_14"><use href="#tL" x="812" y="1466"/></g>
<g id="k29_0"><use href="#tR" x="84" y="1518"/></g><g id="k29_1"><use href="#tR" x="136" y="1518"/></g><g id="k29_2"><use href="#tR" x="188" y="1518"/></g><g id="k29_3"><use href="#tR" x="240" y="1518"/></g><g id="k29_4"><use href="#tR" x="292" y="1518"/></g><g id="k29_5"><use href="#tR" x="344" y="1518"/></g><g id="k29_6"><use href="#tR" x="396" y="1518"/></g><g id="k29_7"><use href="#tR" x="448" y="1518"/></g><g id="k29_8"><use href="#tR" x="500" y="1518"/></g><g id="k29_9"><use href="#tR" x="552" y="1518"/></g><g id="k29_10"><use href="#tR" x="604" y="1518"/></g><g id="k29_11"><use href="#tR" x="656" y="1518"/></g><g id="k29_12"><use href="#tR" x="708" y="1518"/></g><g id="k29_13"><use href="#tR" x="760" y="1518"/></g><g id="k29_14"><use href="#tR" x="812" y="1518"/></g>
<g id="k30_0"><use href="#tL" x="84" y="1570"/></g><g id="k30_1"><use href="#tL" x="136" y="1570"/></g><g id="k30_2"><use href="#tL" x="188" y="1570"/></g><g id="k30_3"><use href="#tL" x="240" y="1570"/></g><g id="k30_4"><use href="#tL" x="292" y="1570"/></g><g id="k30_5"><use href="#tL" x="344" y="1570"/></g><g id="k30_6"><use href="#tL" x="396" y="1570"/></g><g id="k30_7"><use href="#tL" x="448" y="1570"/></g><g id="k30_8"><use href="#tL" x="500" y="1570"/></g><g id="k30_9"><use href="#tL" x="552" y="1570"/></g><g id="k30_10"><use href="#tL" x="604" y="1570"/></g><g id="k30_11"><use href="#tL" x="656" y="1570"/></g><g id="k30_12"><use href="#tL" x="708" y="1570"/></g><g id="k30_13"><use href="#tL" x="760" y="1570"/></g><g id="k30_14"><use href="#tL" x="812" y="1570"/></g>
<g id="k31_0"><use href="#tR" x="84" y="1622"/></g><g id="k31_1"><use href="#tR" x="136" y="1622"/></g><g id="k31_2"><use href="#tR" x="188" y="1622"/></g><g id="k31_3"><use href="#tR" x="240" y="1622"/></g><g id="k31_4"><use href="#tR" x="292" y="1622"/></g><g id="k31_5"><use href="#tR" x="344" y="1622"/></g><g id="k31_6"><use href="#tR" x="396" y="1622"/></g><g id="k31_7"><use href="#tR" x="448" y="1622"/></g><g id="k31_8"><use href="#tR" x="500" y="1622"/></g><g id="k31_9"><use href="#tR" x="552" y="1622"/></g><g id="k31_10"><use href="#tR" x="604" y="1622"/></g><g id="k31_11"><use href="#tR" x="656" y="1622"/></g><g id="k31_12"><use href="#tR" x="708" y="1622"/></g><g id="k31_13"><use href="#tR" x="760" y="1622"/></g><g id="k31_14"><use href="#tR" x="812" y="1622"/></g>
</g>
<text id="watermark" x="448" y="872" text-anchor="middle" font-family="'Liberation Sans',Arial,sans-serif" font-size="14" font-weight="bold" fill="#333">BRACELETBOOK.COM</text>
</svg>
